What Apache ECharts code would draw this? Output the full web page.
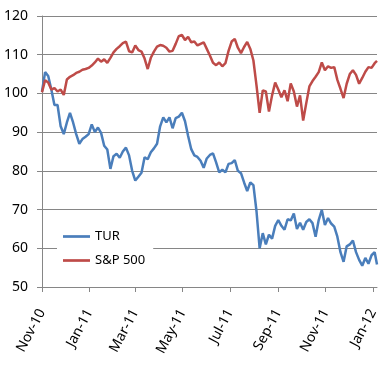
<!DOCTYPE html>
<html>
<head>
<meta charset="utf-8">
<script src="https://cdn.jsdelivr.net/npm/echarts@6/dist/echarts.min.js"></script>
<style>html,body{margin:0;padding:0;background:#fff;}#c{width:382px;height:367px;}</style>
</head>
<body>
<div id="c"></div>
<script>
// Sample points: every 4 calendar days from 2010-11-01, last point 2012-01-06
const startDate = '2010-11-01';
const endDate = '2012-01-06';
const sampleStepDays = 4;

const turValues = [
  100.5,105.5,104.5,101.0,97.0,97.0,91.5,89.5,92.5,95.0,
  92.5,89.5,87.0,88.2,88.8,89.5,92.0,90.0,91.2,89.8,
  86.5,85.5,80.5,83.8,84.4,83.4,85.0,86.0,84.0,80.0,
  77.5,78.5,79.5,83.5,83.0,84.8,85.8,87.0,91.5,93.8,
  92.5,93.8,91.0,93.6,94.0,95.0,92.8,89.0,85.6,84.0,
  83.6,82.6,80.8,83.2,84.1,84.5,82.2,79.6,80.3,79.6,
  81.8,82.0,82.8,80.0,79.4,77.0,74.8,77.0,76.3,69.5,
  60.0,63.9,61.0,63.5,62.5,65.8,67.3,65.8,64.8,67.5,
  67.2,69.0,65.0,66.6,64.8,66.8,67.5,66.5,63.0,67.3,
  69.9,66.0,67.8,66.4,65.6,63.0,59.0,56.5,60.5,61.0,
  62.0,59.0,57.0,55.5,57.5,56.0,58.2,59.0,55.8
];

const spValues = [
  100.3,103.4,102.8,101.0,101.4,100.5,101.0,99.6,103.6,104.3,
  104.7,105.3,105.6,106.1,106.3,106.6,107.2,108.0,109.0,108.2,
  108.8,107.9,109.2,110.6,111.5,112.2,113.0,113.4,110.9,110.6,
  112.4,111.2,110.8,109.0,106.3,109.2,110.8,112.1,112.5,112.3,
  111.8,110.8,111.0,112.8,114.8,115.1,113.8,114.6,113.2,113.4,
  112.4,112.8,113.2,111.5,109.8,107.9,107.3,108.0,107.0,107.8,
  111.0,113.4,114.1,111.8,110.4,112.0,113.3,111.5,108.5,102.0,
  95.0,100.8,100.5,95.3,99.5,102.8,101.0,99.0,100.8,98.0,
  102.6,100.5,96.6,99.5,93.0,97.5,101.8,103.2,104.3,105.5,
  108.0,106.0,107.0,106.6,106.8,103.5,101.2,98.8,102.5,105.0,
  106.0,104.8,102.5,104.0,105.6,106.8,106.6,107.8,108.4
];

const seriesNames = ['TUR', 'S&P 500'];
const monthNames = ['Jan','Feb','Mar','Apr','May','Jun','Jul','Aug','Sep','Oct','Nov','Dec'];

function fmt(d) {
  const y = d.getUTCFullYear(), m = d.getUTCMonth() + 1, dd = d.getUTCDate();
  return y + '-' + String(m).padStart(2, '0') + '-' + String(dd).padStart(2, '0');
}

// daily category axis
const days = [];
const t0 = Date.parse(startDate + 'T00:00:00Z');
const t1 = Date.parse(endDate + 'T00:00:00Z');
for (let t = t0; t <= t1; t += 86400000) days.push(fmt(new Date(t)));

// sample dates
const sampleDates = [];
for (let i = 0; i < turValues.length - 1; i++) {
  sampleDates.push(fmt(new Date(t0 + i * sampleStepDays * 86400000)));
}
sampleDates.push(endDate);

function toDaily(vals) {
  const arr = new Array(days.length).fill(null);
  sampleDates.forEach((d, i) => { const k = days.indexOf(d); if (k >= 0) arr[k] = vals[i]; });
  return arr;
}

const isTick = (idx, val) => {
  const p = val.split('-');
  return p[2] === '01' && (+p[1]) % 2 === 1;
};

const lineIcon = 'path://M0,0 L30,0 L30,3 L0,3 Z';

const chart = echarts.init(document.getElementById('c'), null, { renderer: 'canvas' });
chart.setOption({
  animation: false,
  backgroundColor: '#ffffff',
  grid: { left: 42, right: 5, top: 16, bottom: 80, containLabel: false },
  legend: {
    orient: 'vertical',
    left: 57, top: 224,
    padding: [6, 8, 6, 6],
    backgroundColor: '#ffffff',
    itemWidth: 27, itemHeight: 14, itemGap: 11,
    icon: lineIcon,
    textStyle: { fontFamily: 'Noto Sans', fontSize: 13, color: '#000' },
    data: seriesNames
  },
  xAxis: {
    type: 'category',
    data: days,
    boundaryGap: false,
    axisLine: { lineStyle: { color: '#868686', width: 1 } },
    axisTick: { show: true, interval: isTick, length: 5, lineStyle: { color: '#868686' } },
    axisLabel: {
      interval: isTick,
      rotate: 62,
      margin: 23,
      fontFamily: 'Noto Sans', fontSize: 14, color: '#000',
      formatter: (v) => { const p = v.split('-'); return monthNames[+p[1] - 1] + '-' + p[0].slice(2); }
    },
    splitLine: { show: false }
  },
  yAxis: {
    type: 'value',
    min: 50, max: 120, interval: 10,
    axisLine: { show: true, lineStyle: { color: '#868686', width: 1 } },
    axisTick: { show: true, length: 5, lineStyle: { color: '#868686' } },
    axisLabel: { fontFamily: 'Noto Sans', fontSize: 14, color: '#000', margin: 14 },
    splitLine: { show: true, lineStyle: { color: '#868686', width: 1 } }
  },
  series: [
    {
      name: seriesNames[0], type: 'line', data: toDaily(turValues),
      connectNulls: true, symbol: 'none',
      lineStyle: { color: '#4a7ebb', width: 2.5 }, itemStyle: { color: '#4a7ebb' }
    },
    {
      name: seriesNames[1], type: 'line', data: toDaily(spValues),
      connectNulls: true, symbol: 'none',
      lineStyle: { color: '#be4b48', width: 2.5 }, itemStyle: { color: '#be4b48' }
    }
  ]
});
</script>
</body>
</html>
